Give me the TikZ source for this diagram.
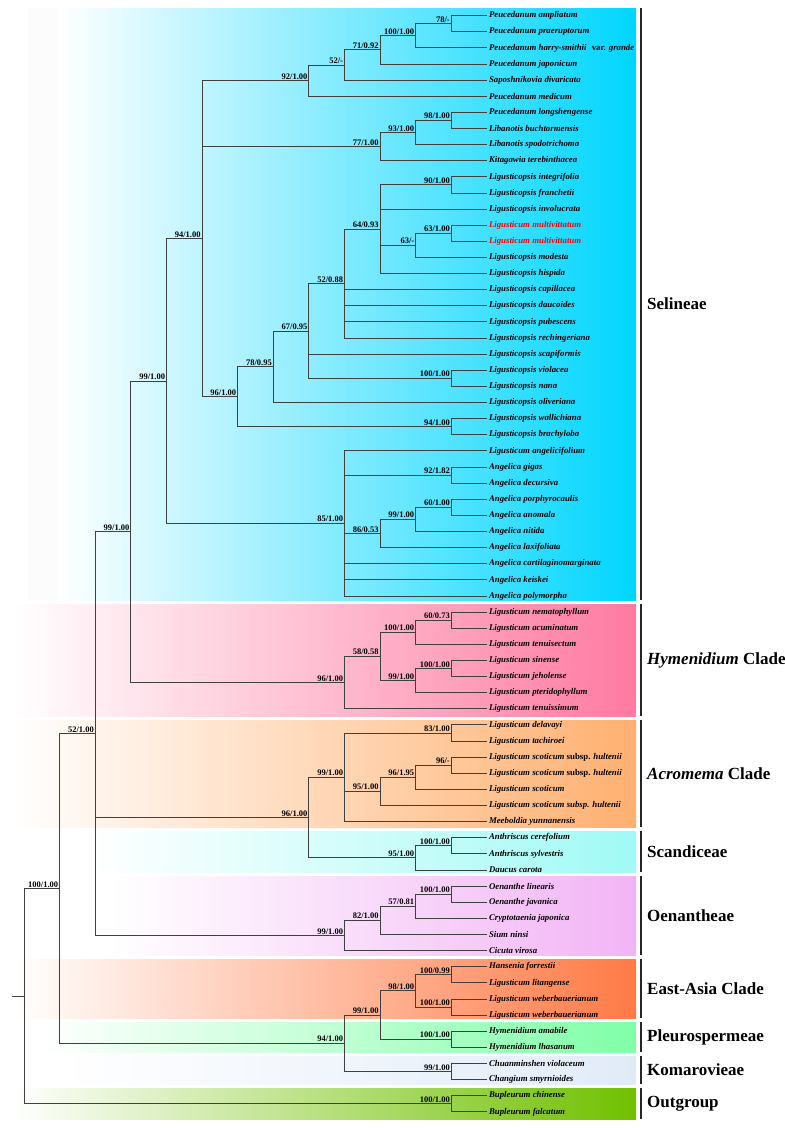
\documentclass[tikz,border=0pt]{standalone}
\usepackage{fontspec}
\setmainfont{Liberation Serif}
\usepackage{tikz}

\definecolor{selcol}{RGB}{0,214,255}
\definecolor{hymcol}{RGB}{255,122,162}
\definecolor{acrcol}{RGB}{255,176,112}
\definecolor{scacol}{RGB}{160,250,245}
\definecolor{oencol}{RGB}{242,180,245}
\definecolor{eascol}{RGB}{255,122,70}
\definecolor{plecol}{RGB}{128,255,168}
\definecolor{komcol}{RGB}{225,235,248}
\definecolor{outcol}{RGB}{112,192,0}

\tikzset{
  branch/.style={draw=black!75, line width=1pt},
  leaf/.style={anchor=west, inner sep=2pt, font=\fontsize{8.8}{10}\selectfont\bfseries\itshape},
  boot/.style={anchor=south east, inner sep=1.2pt, font=\fontsize{8.5}{10}\selectfont\bfseries},
  clade/.style={anchor=west, inner sep=0pt, font=\fontsize{17}{20}\selectfont\bfseries},
  cladebar/.style={line width=1.8pt, draw=black!85},
}
% internal node: name, level, row, support
\newcommand{\inode}[4]{\coordinate (#1) at (#2,#3); \node[boot] (#1-lab) at (#1) {#4};}

\begin{document}
\begin{tikzpicture}[x=1pt, y=-1pt]
  \useasboundingbox (0,0) rectangle (785,1128);

  % clade boxes
  \fill[black!1] (28,8) rectangle (58,600);
  \foreach \xa/\ya/\yb/\col/\txt [count=\k] in {
      58/8/600/selcol/Selineae,
      12/604/716/hymcol/{\textit{Hymenidium} Clade},
      12/720/827/acrcol/{\textit{Acromema} Clade},
      90/831/872/scacol/Scandiceae,
      110/876/955/oencol/Oenantheae,
      12/959/1018/eascol/East-Asia Clade,
      40/1022/1052/plecol/Pleurospermeae,
      60/1056/1084/komcol/Komarovieae,
      12/1088/1119/outcol/Outgroup}{
    \shade[left color=white, right color=\col] (\xa,\ya) rectangle (636,\yb);
    \draw[cladebar] (641,\ya) -- (641,\yb);
    \node[clade] (clade\k) at (647,{(\ya+\yb)/2}) {\txt};
  }

  \begin{scope}[x=35.6pt, y=-16.12pt, shift={(24pt,-15.7pt)}]
    % taxa
    \foreach \nm [count=\r from 0] in {
        Peucedanum ampliatum, Peucedanum praeruptorum,
        {Peucedanum harry-smithii\hspace{0.6em}\textup{var.} grande},
        Peucedanum japonicum, Saposhnikovia divaricata, Peucedanum medicum,
        Peucedanum longshengense, Libanotis buchtormensis, Libanotis spodotrichoma,
        Kitagawia terebinthacea, Ligusticopsis integrifolia, Ligusticopsis franchetii,
        Ligusticopsis involucrata, {\color{red}Ligusticum multivittatum},
        {\color{red}Ligusticum multivittatum}, Ligusticopsis modesta,
        Ligusticopsis hispida, Ligusticopsis capillacea, Ligusticopsis daucoides,
        Ligusticopsis pubescens, Ligusticopsis rechingeriana, Ligusticopsis scapiformis,
        Ligusticopsis violacea, Ligusticopsis nana, Ligusticopsis oliveriana,
        Ligusticopsis wallichiana, Ligusticopsis brachyloba, Ligusticum angelicifolium,
        Angelica gigas, Angelica decursiva, Angelica porphyrocaulis, Angelica anomala,
        Angelica nitida, Angelica laxifoliata, Angelica cartilaginomarginata,
        Angelica keiskei, Angelica polymorpha,
        Ligusticum nematophyllum, Ligusticum acuminatum, Ligusticum tenuisectum,
        Ligusticum sinense, Ligusticum jeholense, Ligusticum pteridophyllum,
        Ligusticum tenuissimum,
        Ligusticum delavayi, Ligusticum tachiroei,
        {Ligusticum scoticum \textup{subsp.} hultenii},
        {Ligusticum scoticum \textup{subsp.} hultenii},
        Ligusticum scoticum, Ligusticum scoticum subsp. hultenii, Meeboldia yunnanensis,
        Anthriscus cerefolium, Anthriscus sylvestris, Daucus carota,
        Oenanthe linearis, Oenanthe javanica, Cryptotaenia japonica, Sium ninsi,
        Cicuta virosa,
        Hansenia forrestii, Ligusticum litangense, Ligusticum weberbauerianum,
        Ligusticum weberbauerianum,
        Hymenidium amabile, Hymenidium lhasanum,
        Chuanminshen violaceum, Changium smyrnioides,
        Bupleurum chinense, Bupleurum falcatum}
      \node[leaf] (l\r) at (13,\r) {\nm};

    % Selineae
    \inode{pa}{12}{0.5}{78/-}
    \inode{pb}{11}{1.25}{100/1.00}
    \inode{pc}{10}{2.125}{71/0.92}
    \inode{pd}{9}{3.0625}{52/-}
    \inode{pe}{8}{4.03125}{92/1.00}
    \inode{la}{12}{6.5}{98/1.00}
    \inode{lb}{11}{7.25}{93/1.00}
    \inode{lc}{10}{8.125}{77/1.00}
    \inode{ga}{12}{10.5}{90/1.00}
    \inode{gb}{12}{13.5}{63/1.00}
    \inode{gc}{11}{14.25}{63/-}
    \inode{gd}{10}{13.25}{64/0.93}
    \inode{ge}{9}{16.625}{52/0.88}
    \inode{gf}{12}{22.5}{100/1.00}
    \inode{gg}{8}{19.5625}{67/0.95}
    \inode{gh}{7}{21.78125}{78/0.95}
    \inode{gi}{12}{25.5}{94/1.00}
    \inode{gj}{6}{23.640625}{96/1.00}
    \inode{sj}{5}{13.8359}{94/1.00}
    \inode{aa}{12}{28.5}{92/1.82}
    \inode{ab}{12}{30.5}{60/1.00}
    \inode{ac}{11}{31.25}{99/1.00}
    \inode{ad}{10}{32.125}{86/0.53}
    \inode{ae}{9}{31.5}{85/1.00}
    \inode{sel}{4}{22.668}{99/1.00}
    % Hymenidium clade
    \inode{ha}{12}{37.5}{60/0.73}
    \inode{hb}{11}{38.25}{100/1.00}
    \inode{hc}{12}{40.5}{100/1.00}
    \inode{hd}{11}{41.25}{99/1.00}
    \inode{he}{10}{39.75}{58/0.58}
    \inode{hf}{9}{41.375}{96/1.00}
    \inode{ea}{3}{32.0215}{99/1.00}
    % Acromema clade, Scandiceae
    \inode{ca}{12}{44.5}{83/1.00}
    \inode{cb}{12}{46.5}{96/-}
    \inode{cc}{11}{47.25}{96/1.95}
    \inode{cd}{10}{48.125}{95/1.00}
    \inode{ce}{9}{47.25}{99/1.00}
    \inode{sa}{12}{51.5}{100/1.00}
    \inode{sb}{11}{52.25}{95/1.00}
    \inode{cf}{8}{49.75}{96/1.00}
    % Oenantheae
    \inode{oa}{12}{54.5}{100/1.00}
    \inode{ob}{11}{55.25}{57/0.81}
    \inode{oc}{10}{56.125}{82/1.00}
    \inode{od}{9}{57.0625}{99/1.00}
    \inode{nb}{2}{44.542}{52/1.00}
    % East-Asia, Pleurospermeae, Komarovieae
    \inode{xa}{12}{59.5}{100/0.99}
    \inode{xb}{12}{61.5}{100/1.00}
    \inode{xc}{11}{60.5}{98/1.00}
    \inode{pl}{12}{63.5}{100/1.00}
    \inode{xd}{10}{62}{99/1.00}
    \inode{ka}{12}{65.5}{99/1.00}
    \inode{xe}{9}{63.75}{94/1.00}
    \inode{na}{1}{54.146}{100/1.00}
    % outgroup and root
    \inode{og}{12}{67.5}{100/1.00}
    \coordinate (root) at (0,60.823);
    \coordinate (stub) at (-0.337,60.823);

    \foreach \p/\c in {
        pa/l0, pa/l1, pb/pa, pb/l2, pc/pb, pc/l3, pd/pc, pd/l4, pe/pd, pe/l5,
        la/l6, la/l7, lb/la, lb/l8, lc/lb, lc/l9,
        ga/l10, ga/l11, gb/l13, gb/l14, gc/gb, gc/l15,
        gd/ga, gd/l12, gd/gc, gd/l16,
        ge/gd, ge/l17, ge/l18, ge/l19, ge/l20,
        gf/l22, gf/l23, gg/ge, gg/l21, gg/gf, gh/gg, gh/l24,
        gi/l25, gi/l26, gj/gh, gj/gi, sj/pe, sj/lc, sj/gj,
        aa/l28, aa/l29, ab/l30, ab/l31, ac/ab, ac/l32, ad/ac, ad/l33,
        ae/l27, ae/aa, ae/ad, ae/l34, ae/l35, ae/l36, sel/sj, sel/ae,
        ha/l37, ha/l38, hb/ha, hb/l39, hc/l40, hc/l41, hd/hc, hd/l42,
        he/hb, he/hd, hf/he, hf/l43, ea/sel, ea/hf,
        ca/l44, ca/l45, cb/l46, cb/l47, cc/cb, cc/l48, cd/cc, cd/l49,
        ce/ca, ce/cd, ce/l50, sa/l51, sa/l52, sb/sa, sb/l53, cf/ce, cf/sb,
        oa/l54, oa/l55, ob/oa, ob/l56, oc/ob, oc/l57, od/oc, od/l58,
        nb/ea, nb/cf, nb/od,
        xa/l59, xa/l60, xb/l61, xb/l62, xc/xa, xc/xb, pl/l63, pl/l64,
        xd/xc, xd/pl, ka/l65, ka/l66, xe/xd, xe/ka, na/nb, na/xe,
        og/l67, og/l68, root/na, root/og}
      \draw[branch] (\p) |- (\c);
    \draw[branch] (stub) -- (root);
  \end{scope}
\end{tikzpicture}
\end{document}
